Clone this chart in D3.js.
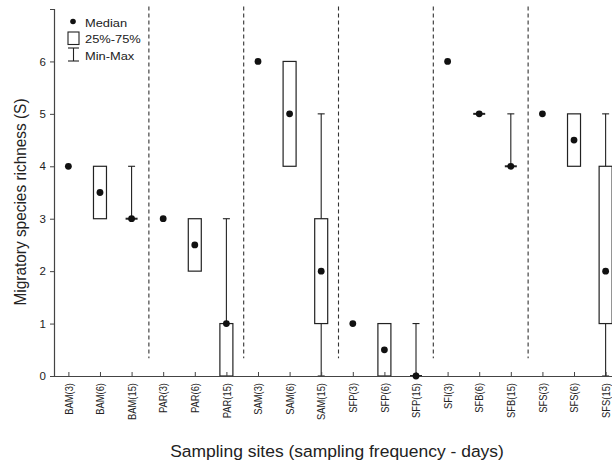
<!DOCTYPE html>
<html>
<head>
<meta charset="utf-8">
<script src="https://cdn.jsdelivr.net/npm/d3@7"></script>
<style>
  html, body { margin: 0; padding: 0; background: #fff; }
  svg { display: block; }
  svg text { font-family: "Liberation Sans", Arial, Helvetica, sans-serif; }
</style>
</head>
<body>
<svg id="chart" width="612" height="465"></svg>
<script>
// Sampling sites with sampling frequency (days)
const categories = ["BAM(3)", "BAM(6)", "BAM(15)", "PAR(3)", "PAR(6)", "PAR(15)",
  "SAM(3)", "SAM(6)", "SAM(15)", "SFP(3)", "SFP(6)", "SFP(15)",
  "SFI(3)", "SFB(6)", "SFB(15)", "SFS(3)", "SFS(6)", "SFS(15)"];
// Summary statistics of migratory species richness (null = not shown)
const medians = [4, 3.5, 3, 3, 2.5, 1, 6, 5, 2, 1, 0.5, 0, 6, 5, 4, 5, 4.5, 2];
const q1s     = [null, 3, 3, null, 2, 0, null, 4, 1, null, 0, 0, null, 5, 4, null, 4, 1];
const q3s     = [null, 4, 3, null, 3, 1, null, 6, 3, null, 1, 0, null, 5, 4, null, 5, 4];
const mins    = [null, null, 3, null, null, 0, null, null, 0, null, null, 0, null, null, 4, null, null, 0];
const maxs    = [null, null, 4, null, null, 3, null, null, 5, null, null, 1, null, null, 5, null, null, 5];
// Vertical dashed separators after these category indices
const groupEnds = [2, 5, 8, 11, 14];
const yTicks = [0, 1, 2, 3, 4, 5, 6];

const rows = categories.map((c, i) => ({
  cat: c, med: medians[i], q1: q1s[i], q3: q3s[i], min: mins[i], max: maxs[i]
}));

const svg = d3.select("#chart");
const plotLeft = 54, plotRight = 620, plotTop = 9, plotBottom = 376;
const stretch = 1.12; // horizontal glyph stretch used for all text

const x = d3.scalePoint().domain(categories).range([plotLeft, plotRight]).padding(0.455);
const y = d3.scaleLinear().domain([0, 7]).range([plotBottom, plotTop]);

const ink = "#222";
const axisCol = "#444";

// Dashed group separators
svg.append("g").selectAll("line").data(groupEnds).join("line")
  .attr("x1", i => (x(categories[i]) + x(categories[i + 1])) / 2 + 1.5)
  .attr("x2", i => (x(categories[i]) + x(categories[i + 1])) / 2 + 1.5)
  .attr("y1", y(7.05)).attr("y2", y(0.34))
  .attr("stroke", "#333").attr("stroke-width", 1.1)
  .attr("stroke-dasharray", "4,3");

// Whiskers
const boxW = 13, capW = 7;
const wg = svg.append("g").attr("stroke", ink).attr("stroke-width", 1.1);
rows.filter(d => d.min !== null).forEach(d => {
  const cx = x(d.cat);
  wg.append("line").attr("x1", cx).attr("x2", cx).attr("y1", y(d.min)).attr("y2", y(d.max));
  wg.append("line").attr("x1", cx - capW / 2).attr("x2", cx + capW / 2)
    .attr("y1", y(d.max)).attr("y2", y(d.max));
  wg.append("line").attr("x1", cx - capW / 2).attr("x2", cx + capW / 2)
    .attr("y1", y(d.min)).attr("y2", y(d.min));
});

// Interquartile boxes (a collapsed box is drawn as a short bar)
const withBox = rows.filter(d => d.q1 !== null);
svg.append("g").selectAll("rect").data(withBox.filter(d => d.q3 > d.q1)).join("rect")
  .attr("x", d => x(d.cat) - boxW / 2)
  .attr("width", boxW)
  .attr("y", d => y(d.q3))
  .attr("height", d => y(d.q1) - y(d.q3))
  .attr("fill", "#fff")
  .attr("stroke", ink)
  .attr("stroke-width", 1.2);
svg.append("g").selectAll("line").data(withBox.filter(d => d.q3 === d.q1)).join("line")
  .attr("x1", d => x(d.cat) - boxW / 2 + 0.5)
  .attr("x2", d => x(d.cat) + boxW / 2 - 0.5)
  .attr("y1", d => y(d.q1)).attr("y2", d => y(d.q1))
  .attr("stroke", ink).attr("stroke-width", 2);

// Axes
const xAxis = d3.axisBottom(x).tickSizeInner(-4).tickSizeOuter(0);
const gx = svg.append("g").attr("transform", `translate(0,${plotBottom})`).call(xAxis);
gx.attr("font-family", null);
gx.select(".domain").attr("stroke", axisCol).attr("stroke-width", 1.2);
gx.selectAll(".tick line").attr("stroke", axisCol);
gx.selectAll(".tick text")
  .attr("transform", `scale(${stretch},1) rotate(-90)`)
  .attr("text-anchor", "end")
  .attr("x", -7).attr("y", 0).attr("dy", "0.35em")
  .attr("font-size", 9.4).attr("fill", "#222");

const yAxis = d3.axisLeft(y).tickValues(yTicks).tickFormat(d3.format("d"))
  .tickSizeInner(4).tickSizeOuter(4).tickPadding(4);
const gy = svg.append("g").attr("transform", `translate(${plotLeft},0)`).call(yAxis);
gy.attr("font-family", null);
gy.select(".domain").attr("stroke", axisCol).attr("stroke-width", 1.2);
gy.selectAll(".tick line").attr("stroke", axisCol);
gy.selectAll(".tick text").attr("font-size", 11.5).attr("fill", "#222");

// Medians
svg.append("g").selectAll("circle").data(rows).join("circle")
  .attr("cx", d => x(d.cat)).attr("cy", d => y(d.med)).attr("r", 3.4)
  .attr("fill", "#111");

// Axis titles
svg.append("text")
  .attr("transform", `translate(26,202) scale(${stretch},1) rotate(-90)`)
  .attr("text-anchor", "middle")
  .attr("font-size", 15.4).attr("fill", "#222")
  .text("Migratory species richness (S)");

svg.append("text")
  .attr("transform", `translate(${(plotLeft + plotRight) / 2},457) scale(${stretch},1)`)
  .attr("text-anchor", "middle")
  .attr("font-size", 15.6).attr("fill", "#222")
  .text("Sampling sites (sampling frequency - days)");

// Legend
const lg = svg.append("g").attr("fill", "#222");
const legendText = (ty, label) => lg.append("text")
  .attr("transform", `translate(85,${ty}) scale(${stretch},1)`)
  .attr("font-size", 11.5).text(label);
lg.append("circle").attr("cx", 73).attr("cy", 21.5).attr("r", 2.8).attr("fill", "#111");
legendText(26.5, "Median");
lg.append("rect").attr("x", 68).attr("y", 32).attr("width", 11).attr("height", 12.5)
  .attr("fill", "#fff").attr("stroke", ink).attr("stroke-width", 1.1);
legendText(43, "25%-75%");
const lw = lg.append("g").attr("stroke", ink).attr("stroke-width", 1.1);
lw.append("line").attr("x1", 73.5).attr("x2", 73.5).attr("y1", 48).attr("y2", 61);
lw.append("line").attr("x1", 68).attr("x2", 79).attr("y1", 48).attr("y2", 48);
lw.append("line").attr("x1", 68).attr("x2", 79).attr("y1", 61).attr("y2", 61);
legendText(59.5, "Min-Max");
</script>
</body>
</html>
